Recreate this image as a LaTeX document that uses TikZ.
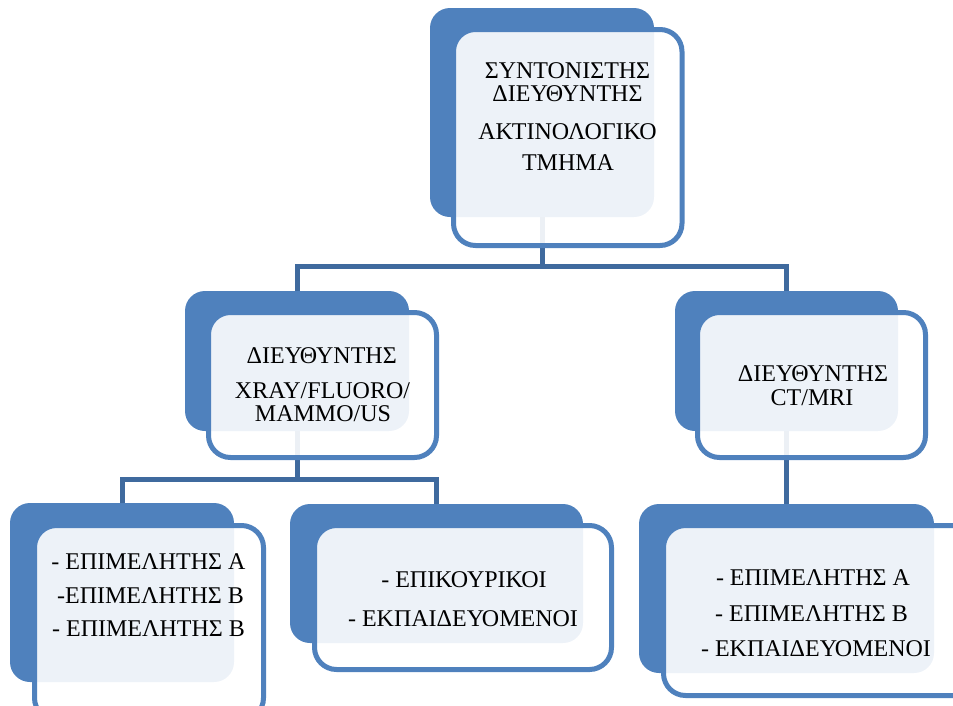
\documentclass[tikz,border=0pt]{standalone}
\usepackage{fontspec}
\setmainfont{Liberation Serif}
\definecolor{accent}{HTML}{4F81BD}
\definecolor{connc}{HTML}{3F6A9E}
\begin{document}
\begin{tikzpicture}[x=1pt,y=-1pt,
  backbox/.style={rectangle, fill=accent, rounded corners=20pt, inner sep=0pt, outer sep=0pt},
  frontbox/.style={rectangle, draw=accent, line width=5pt, fill=white, fill opacity=0.9, rounded corners=22pt, inner sep=0pt, outer sep=0pt},
  conn/.style={draw=connc, line width=5pt},
  txt/.style={anchor=base, inner sep=0pt, font=\fontsize{24}{28}\selectfont}]
\useasboundingbox (0,0) rectangle (953,705);

% back boxes
\node[backbox, minimum width=224pt, minimum height=209pt] (b1) at (542,112.5) {};
\node[backbox, minimum width=224pt, minimum height=140pt] (b2) at (297,361) {};
\node[backbox, minimum width=223pt, minimum height=140pt] (b3) at (786.5,361) {};
\node[backbox, minimum width=224pt, minimum height=179pt] (b4) at (122,592.5) {};
\node[backbox, minimum width=293pt, minimum height=139pt] (b5) at (436.5,573.5) {};
\node[backbox, minimum width=295pt, minimum height=169pt] (b6) at (786.5,588.5) {};

% connectors
\coordinate (j1) at (542,266.5);
\coordinate (j2) at (297,479.5);
\draw[conn] (b1.south) -- (j1);
\draw[conn] (b2.north) |- (j1) -| (b3.north);
\draw[conn] (b2.south) -- (j2);
\draw[conn] (b4.north) |- (j2) -| (b5.north);
\draw[conn] (b3.south) -- (b6.north);

% front boxes
\node[frontbox, minimum width=228.5pt, minimum height=216pt] (f1) at (567.75,137.5) {};
\node[frontbox, minimum width=228pt, minimum height=145pt] (f2) at (322.5,385) {};
\node[frontbox, minimum width=228pt, minimum height=145pt] (f3) at (811.5,385) {};
\node[frontbox, minimum width=229pt, minimum height=194.5pt] (f4) at (149,622.75) {};
\node[frontbox, minimum width=297pt, minimum height=144pt] (f5) at (463,597.5) {};
\node[frontbox, minimum width=311.5pt, minimum height=170pt] (f6) at (819.25,610.5) {};

% texts
\node[txt] (t1a) at (567.5,78.3) {ΣΥΝΤΟΝΙΣΤΗΣ};
\node[txt] (t1b) at (567.5,101.7) {ΔΙΕΥΘΥΝΤΗΣ};
\node[txt] (t1c) at (567.5,139.3) {ΑΚΤΙΝΟΛΟΓΙΚΟ};
\node[txt] (t1d) at (568,170.7) {ΤΜΗΜΑ};

\node[txt] (t2a) at (321.7,363.3) {ΔΙΕΥΘΥΝΤΗΣ};
\node[txt] (t2b) at (322.5,398.3) {XRAY/FLUORO/};
\node[txt] (t2c) at (323,421.7) {MAMMO/US};

\node[txt] (t3a) at (813,381.7) {ΔΙΕΥΘΥΝΤΗΣ};
\node[txt] (t3b) at (812,405) {CT/MRI};

\node[txt] (t4a) at (148.5,569.3) {- ΕΠΙΜΕΛΗΤΗΣ Α};
\node[txt] (t4b) at (150.5,603.3) {-ΕΠΙΜΕΛΗΤΗΣ Β};
\node[txt] (t4c) at (148.5,636.7) {- ΕΠΙΜΕΛΗΤΗΣ Β};

\node[txt] (t5a) at (464,587.7) {- ΕΠΙΚΟΥΡΙΚΟΙ};
\node[txt] (t5b) at (463,626) {- ΕΚΠΑΙΔΕΥΟΜΕΝΟΙ};

\node[txt] (t6a) at (813,585) {- ΕΠΙΜΕΛΗΤΗΣ Α};
\node[txt] (t6b) at (811.5,621.7) {- ΕΠΙΜΕΛΗΤΗΣ Β};
\node[txt] (t6c) at (816,656.7) {- ΕΚΠΑΙΔΕΥΟΜΕΝΟΙ};
\end{tikzpicture}
\end{document}
